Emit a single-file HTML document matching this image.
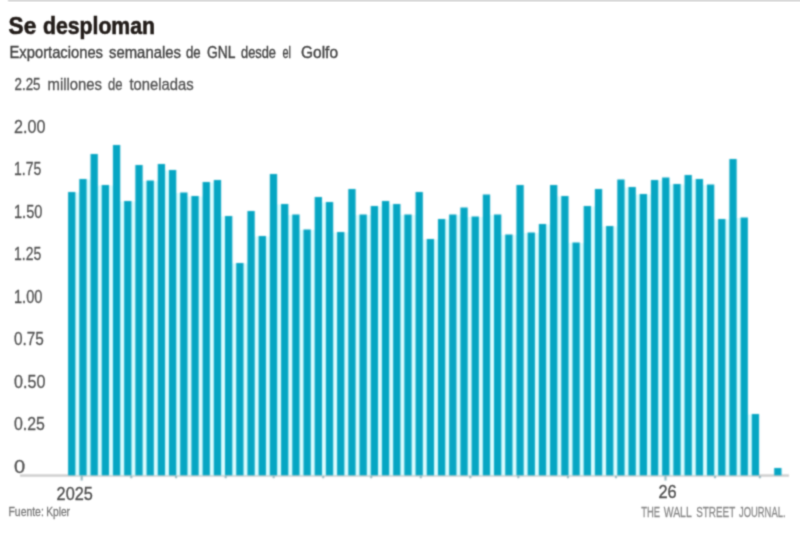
<!DOCTYPE html>
<html lang="es"><head><meta charset="utf-8"><title>Se desploman</title>
<style>
html,body{margin:0;padding:0;background:#fff;overflow:hidden}
svg{display:block;font-family:"Liberation Sans",sans-serif;}
</style></head><body>
<svg width="800" height="533" viewBox="0 0 800 533">
<defs><filter id="fb" x="-2%" y="-5%" width="104%" height="110%" color-interpolation-filters="sRGB"><feConvolveMatrix order="5" kernelMatrix="0.00048 0.00501 0.01095 0.00501 0.00048 0.00501 0.05222 0.11405 0.05222 0.00501 0.01095 0.11405 0.24912 0.11405 0.01095 0.00501 0.05222 0.11405 0.05222 0.00501 0.00048 0.00501 0.01095 0.00501 0.00048" divisor="1" edgeMode="none"/></filter><filter id="ft" x="-2%" y="-5%" width="104%" height="110%" color-interpolation-filters="sRGB"><feConvolveMatrix order="5" kernelMatrix="0.00003 0.00101 0.00331 0.00101 0.00003 0.00101 0.03529 0.11525 0.03529 0.00101 0.00331 0.11525 0.37636 0.11525 0.00331 0.00101 0.03529 0.11525 0.03529 0.00101 0.00003 0.00101 0.00331 0.00101 0.00003" divisor="1" edgeMode="none"/></filter></defs>
<rect x="-5" y="-5" width="810" height="543" fill="#fff"/>
<g filter="url(#fb)"><rect x="8" y="-2" width="800" height="3.6" fill="#d4d4d4"/></g>
<g filter="url(#ft)">
<text y="33.55" font-size="24.5" fill="#221c19" stroke="#221c19" stroke-width="0.6" font-weight="bold"><tspan x="8.6" textLength="27.60" lengthAdjust="spacingAndGlyphs">Se</tspan> <tspan x="43" textLength="112.00" lengthAdjust="spacingAndGlyphs">desploman</tspan></text>
<text y="58.4" font-size="17" fill="#444" stroke="#444" stroke-width="0.4" ><tspan x="9.5" textLength="93.50" lengthAdjust="spacingAndGlyphs">Exportaciones</tspan> <tspan x="109" textLength="72.00" lengthAdjust="spacingAndGlyphs">semanales</tspan> <tspan x="186" textLength="14.75" lengthAdjust="spacingAndGlyphs">de</tspan> <tspan x="207" textLength="28.00" lengthAdjust="spacingAndGlyphs">GNL</tspan> <tspan x="241" textLength="35.00" lengthAdjust="spacingAndGlyphs">desde</tspan> <tspan x="282.5" textLength="8.50" lengthAdjust="spacingAndGlyphs">el</tspan> <tspan x="301" textLength="37.00" lengthAdjust="spacingAndGlyphs">Golfo</tspan></text>
<text y="89.5" font-size="17" fill="#555" stroke="#555" stroke-width="0.35" ><tspan x="14.5" textLength="26.00" lengthAdjust="spacingAndGlyphs">2.25</tspan> <tspan x="47.5" textLength="54.50" lengthAdjust="spacingAndGlyphs">millones</tspan> <tspan x="108" textLength="14.50" lengthAdjust="spacingAndGlyphs">de</tspan> <tspan x="129.5" textLength="64.25" lengthAdjust="spacingAndGlyphs">toneladas</tspan></text>
<g font-size="18" fill="#555" stroke="#555" stroke-width="0.3">
<text x="14" y="132.60" textLength="31.40" lengthAdjust="spacingAndGlyphs">2.00</text>
<text x="14" y="175.15" textLength="27.20" lengthAdjust="spacingAndGlyphs">1.75</text>
<text x="14" y="217.70" textLength="28.40" lengthAdjust="spacingAndGlyphs">1.50</text>
<text x="14" y="260.25" textLength="27.20" lengthAdjust="spacingAndGlyphs">1.25</text>
<text x="14" y="302.80" textLength="28.40" lengthAdjust="spacingAndGlyphs">1.00</text>
<text x="14" y="345.35" textLength="29.90" lengthAdjust="spacingAndGlyphs">0.75</text>
<text x="14" y="387.90" textLength="31.40" lengthAdjust="spacingAndGlyphs">0.50</text>
<text x="14" y="430.45" textLength="30.90" lengthAdjust="spacingAndGlyphs">0.25</text>
<text x="14" y="473.00" textLength="11.15" lengthAdjust="spacingAndGlyphs">0</text>
</g>
</g>
<g filter="url(#fb)">
<rect x="20" y="474.4" width="769" height="2.3" fill="#cbcbcb"/>
<g fill="#dcfcfe">
<rect x="75.10" y="192.5" width="4.51" height="282.8"/>
<rect x="86.31" y="179.5" width="4.51" height="295.8"/>
<rect x="97.52" y="185.5" width="4.51" height="289.8"/>
<rect x="108.72" y="185.5" width="4.51" height="289.8"/>
<rect x="119.93" y="201.5" width="4.51" height="273.8"/>
<rect x="131.14" y="201.5" width="4.51" height="273.8"/>
<rect x="142.35" y="181.0" width="4.51" height="294.3"/>
<rect x="153.56" y="181.0" width="4.51" height="294.3"/>
<rect x="164.76" y="170.5" width="4.51" height="304.8"/>
<rect x="175.97" y="193.0" width="4.51" height="282.3"/>
<rect x="187.18" y="196.5" width="4.51" height="278.8"/>
<rect x="198.39" y="196.5" width="4.51" height="278.8"/>
<rect x="209.60" y="182.5" width="4.51" height="292.8"/>
<rect x="220.80" y="216.5" width="4.51" height="258.8"/>
<rect x="232.01" y="263.5" width="4.51" height="211.8"/>
<rect x="243.22" y="263.5" width="4.51" height="211.8"/>
<rect x="254.43" y="236.5" width="4.51" height="238.8"/>
<rect x="265.64" y="236.5" width="4.51" height="238.8"/>
<rect x="276.84" y="204.5" width="4.51" height="270.8"/>
<rect x="288.05" y="215.0" width="4.51" height="260.3"/>
<rect x="299.26" y="230.0" width="4.51" height="245.3"/>
<rect x="310.47" y="230.0" width="4.51" height="245.3"/>
<rect x="321.68" y="202.5" width="4.51" height="272.8"/>
<rect x="332.88" y="232.5" width="4.51" height="242.8"/>
<rect x="344.09" y="232.5" width="4.51" height="242.8"/>
<rect x="355.30" y="215.0" width="4.51" height="260.3"/>
<rect x="366.51" y="215.0" width="4.51" height="260.3"/>
<rect x="377.72" y="206.5" width="4.51" height="268.8"/>
<rect x="388.92" y="204.5" width="4.51" height="270.8"/>
<rect x="400.13" y="215.0" width="4.51" height="260.3"/>
<rect x="411.34" y="215.0" width="4.51" height="260.3"/>
<rect x="422.55" y="239.5" width="4.51" height="235.8"/>
<rect x="433.76" y="239.5" width="4.51" height="235.8"/>
<rect x="444.96" y="219.5" width="4.51" height="255.8"/>
<rect x="456.17" y="215.0" width="4.51" height="260.3"/>
<rect x="467.38" y="217.0" width="4.51" height="258.3"/>
<rect x="478.59" y="217.0" width="4.51" height="258.3"/>
<rect x="489.80" y="215.0" width="4.51" height="260.3"/>
<rect x="501.00" y="235.0" width="4.51" height="240.3"/>
<rect x="512.21" y="235.0" width="4.51" height="240.3"/>
<rect x="523.42" y="233.0" width="4.51" height="242.3"/>
<rect x="534.63" y="233.0" width="4.51" height="242.3"/>
<rect x="545.84" y="224.5" width="4.51" height="250.8"/>
<rect x="557.04" y="196.5" width="4.51" height="278.8"/>
<rect x="568.25" y="243.0" width="4.51" height="232.3"/>
<rect x="579.46" y="243.0" width="4.51" height="232.3"/>
<rect x="590.67" y="206.5" width="4.51" height="268.8"/>
<rect x="601.88" y="226.5" width="4.51" height="248.8"/>
<rect x="613.08" y="226.5" width="4.51" height="248.8"/>
<rect x="624.29" y="187.5" width="4.51" height="287.8"/>
<rect x="635.50" y="194.5" width="4.51" height="280.8"/>
<rect x="646.71" y="194.5" width="4.51" height="280.8"/>
<rect x="657.92" y="180.5" width="4.51" height="294.8"/>
<rect x="669.12" y="184.5" width="4.51" height="290.8"/>
<rect x="680.33" y="184.5" width="4.51" height="290.8"/>
<rect x="691.54" y="179.5" width="4.51" height="295.8"/>
<rect x="702.75" y="185.0" width="4.51" height="290.3"/>
<rect x="713.96" y="219.5" width="4.51" height="255.8"/>
<rect x="725.16" y="219.5" width="4.51" height="255.8"/>
<rect x="736.37" y="218.0" width="4.51" height="257.3"/>
<rect x="747.58" y="414.5" width="4.51" height="60.8"/>
</g>
<g fill="#06a6c3">
<rect x="68.10" y="192" width="7.3" height="283.3"/>
<rect x="79.31" y="179" width="7.3" height="296.3"/>
<rect x="90.52" y="154" width="7.3" height="321.3"/>
<rect x="101.72" y="185" width="7.3" height="290.3"/>
<rect x="112.93" y="145" width="7.3" height="330.3"/>
<rect x="124.14" y="201" width="7.3" height="274.3"/>
<rect x="135.35" y="165" width="7.3" height="310.3"/>
<rect x="146.56" y="180.5" width="7.3" height="294.8"/>
<rect x="157.76" y="164" width="7.3" height="311.3"/>
<rect x="168.97" y="170" width="7.3" height="305.3"/>
<rect x="180.18" y="192.5" width="7.3" height="282.8"/>
<rect x="191.39" y="196" width="7.3" height="279.3"/>
<rect x="202.60" y="182" width="7.3" height="293.3"/>
<rect x="213.80" y="180" width="7.3" height="295.3"/>
<rect x="225.01" y="216" width="7.3" height="259.3"/>
<rect x="236.22" y="263" width="7.3" height="212.3"/>
<rect x="247.43" y="211" width="7.3" height="264.3"/>
<rect x="258.64" y="236" width="7.3" height="239.3"/>
<rect x="269.84" y="174" width="7.3" height="301.3"/>
<rect x="281.05" y="204" width="7.3" height="271.3"/>
<rect x="292.26" y="214.5" width="7.3" height="260.8"/>
<rect x="303.47" y="229.5" width="7.3" height="245.8"/>
<rect x="314.68" y="197" width="7.3" height="278.3"/>
<rect x="325.88" y="202" width="7.3" height="273.3"/>
<rect x="337.09" y="232" width="7.3" height="243.3"/>
<rect x="348.30" y="189" width="7.3" height="286.3"/>
<rect x="359.51" y="214.5" width="7.3" height="260.8"/>
<rect x="370.72" y="206" width="7.3" height="269.3"/>
<rect x="381.92" y="201" width="7.3" height="274.3"/>
<rect x="393.13" y="204" width="7.3" height="271.3"/>
<rect x="404.34" y="214.5" width="7.3" height="260.8"/>
<rect x="415.55" y="192" width="7.3" height="283.3"/>
<rect x="426.76" y="239" width="7.3" height="236.3"/>
<rect x="437.96" y="219" width="7.3" height="256.3"/>
<rect x="449.17" y="214.5" width="7.3" height="260.8"/>
<rect x="460.38" y="207.5" width="7.3" height="267.8"/>
<rect x="471.59" y="216.5" width="7.3" height="258.8"/>
<rect x="482.80" y="194.5" width="7.3" height="280.8"/>
<rect x="494.00" y="214.5" width="7.3" height="260.8"/>
<rect x="505.21" y="234.5" width="7.3" height="240.8"/>
<rect x="516.42" y="185" width="7.3" height="290.3"/>
<rect x="527.63" y="232.5" width="7.3" height="242.8"/>
<rect x="538.84" y="224" width="7.3" height="251.3"/>
<rect x="550.04" y="185" width="7.3" height="290.3"/>
<rect x="561.25" y="196" width="7.3" height="279.3"/>
<rect x="572.46" y="242.5" width="7.3" height="232.8"/>
<rect x="583.67" y="206" width="7.3" height="269.3"/>
<rect x="594.88" y="189" width="7.3" height="286.3"/>
<rect x="606.08" y="226" width="7.3" height="249.3"/>
<rect x="617.29" y="179.5" width="7.3" height="295.8"/>
<rect x="628.50" y="187" width="7.3" height="288.3"/>
<rect x="639.71" y="194" width="7.3" height="281.3"/>
<rect x="650.92" y="180" width="7.3" height="295.3"/>
<rect x="662.12" y="177.5" width="7.3" height="297.8"/>
<rect x="673.33" y="184" width="7.3" height="291.3"/>
<rect x="684.54" y="175" width="7.3" height="300.3"/>
<rect x="695.75" y="179" width="7.3" height="296.3"/>
<rect x="706.96" y="184.5" width="7.3" height="290.8"/>
<rect x="718.16" y="219" width="7.3" height="256.3"/>
<rect x="729.37" y="159" width="7.3" height="316.3"/>
<rect x="740.58" y="217.5" width="7.3" height="257.8"/>
<rect x="751.79" y="414" width="7.3" height="61.3"/>
<rect x="774.20" y="468" width="7.3" height="7.3"/>
</g>
<g fill="#8fb4bb">
<rect x="80.70" y="476" width="2" height="4.5"/>
<rect x="130.28" y="476" width="2" height="2.2"/>
<rect x="175.07" y="476" width="2" height="2.2"/>
<rect x="224.65" y="476" width="2" height="2.2"/>
<rect x="272.63" y="476" width="2" height="2.2"/>
<rect x="322.22" y="476" width="2" height="2.2"/>
<rect x="370.20" y="476" width="2" height="2.2"/>
<rect x="419.78" y="476" width="2" height="2.2"/>
<rect x="469.37" y="476" width="2" height="2.2"/>
<rect x="517.35" y="476" width="2" height="2.2"/>
<rect x="566.93" y="476" width="2" height="2.2"/>
<rect x="614.92" y="476" width="2" height="2.2"/>
<rect x="664.50" y="476" width="2" height="4.5"/>
<rect x="714.08" y="476" width="2" height="2.2"/>
<rect x="758.87" y="476" width="2" height="2.2"/>
</g>
</g>
<g filter="url(#ft)">
<g font-size="18" fill="#505050" stroke="#505050" stroke-width="0.35">
<text x="56.6" y="499.9" textLength="36.2" lengthAdjust="spacingAndGlyphs">2025</text>
<text x="658.4" y="497.7" textLength="18.2" lengthAdjust="spacingAndGlyphs">26</text>
</g>
<text y="516.2" font-size="13.5" fill="#777" stroke="#777" stroke-width="0.3" ><tspan x="8.5" textLength="35.30" lengthAdjust="spacingAndGlyphs">Fuente:</tspan> <tspan x="46.2" textLength="23.80" lengthAdjust="spacingAndGlyphs">Kpler</tspan></text>
<text y="516.5" font-size="14.5" fill="#8a8a8a" stroke="#8a8a8a" stroke-width="0.3" ><tspan x="641.2" textLength="18.80" lengthAdjust="spacingAndGlyphs">THE</tspan> <tspan x="663.7" textLength="27.60" lengthAdjust="spacingAndGlyphs">WALL</tspan> <tspan x="696.2" textLength="38.80" lengthAdjust="spacingAndGlyphs">STREET</tspan> <tspan x="739" textLength="46.50" lengthAdjust="spacingAndGlyphs">JOURNAL.</tspan></text>
</g>
</svg>
</body></html>
